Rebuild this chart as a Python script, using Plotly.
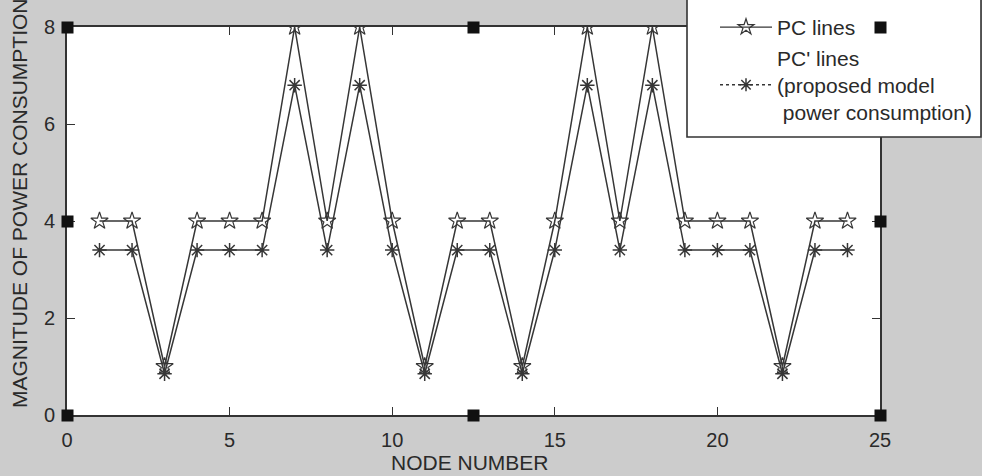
import plotly.graph_objects as go

# ---- data ----
nodes = list(range(1, 25))
pc_lines = [4, 4, 1, 4, 4, 4, 8, 4, 8, 4, 1, 4, 4, 1, 4, 8, 4, 8, 4, 4, 4, 1, 4, 4]
pc_prime = [3.4, 3.4, 0.85, 3.4, 3.4, 3.4, 6.8, 3.4, 6.8, 3.4, 0.85, 3.4, 3.4, 0.85,
            3.4, 6.8, 3.4, 6.8, 3.4, 3.4, 3.4, 0.85, 3.4, 3.4]
x_ticks = [0, 5, 10, 15, 20, 25]
y_ticks = [0, 2, 4, 6, 8]
x_range = [0, 25]
y_range = [0, 8]

# figure geometry (pixels)
W, H = 982, 476
L, R, T, B = 67, 102, 27, 61
PW, PH = W - L - R, H - T - B

def px_x(p):
    return (p - L) / PW

def px_y(p):
    return (H - B - p) / PH

FONT = "Liberation Sans, Arial, sans-serif"
INK = "#2a2a2a"
LINE = "#363636"
BG = "#cccccc"

fig = go.Figure()

fig.add_trace(go.Scatter(
    x=nodes, y=pc_lines, mode="lines+markers", showlegend=False,
    line=dict(color=LINE, width=1.5),
    marker=dict(symbol="star-open", size=13, color=LINE, line=dict(width=1.2, color=LINE)),
))
fig.add_trace(go.Scatter(
    x=nodes, y=pc_prime, mode="lines+markers", showlegend=False,
    line=dict(color=LINE, width=1.5),
    marker=dict(symbol="asterisk-open", size=12, color=LINE, line=dict(width=1.5, color=LINE)),
))

# legend entries
fig.add_trace(go.Scatter(
    x=[None], y=[None], mode="lines+markers", name="PC lines",
    line=dict(color=LINE, width=1.3),
    marker=dict(symbol="star-open", size=12, color=LINE, line=dict(width=1.2, color=LINE)),
))
fig.add_trace(go.Scatter(
    x=[None], y=[None], mode="lines+markers",
    name="PC' lines<br>(proposed model<br> power consumption)",
    line=dict(color=LINE, width=1.3, dash="3px,3px"),
    marker=dict(symbol="asterisk-open", size=11, color=LINE, line=dict(width=1.5, color=LINE)),
))

# selection handles (corners / midpoints of the axes box), drawn above the legend box
xm = (x_range[0] + x_range[1]) / 2
ym = (y_range[0] + y_range[1]) / 2
hx = [x_range[0], x_range[0], x_range[0], xm, xm, x_range[1], x_range[1], x_range[1]]
hy = [y_range[0], ym, y_range[1], y_range[1], y_range[0], y_range[0], ym, y_range[1]]
handle_anns = [
    dict(text=" ", x=a, y=b, xref="x", yref="y", showarrow=False,
         xanchor="center", yanchor="middle", width=11, height=11, borderpad=0,
         bgcolor="#111111", font=dict(size=6))
    for a, b in zip(hx, hy)
]

axis_common = dict(
    showgrid=False, zeroline=False, showline=True, linecolor="#333333", linewidth=1.8,
    mirror="ticks", ticks="inside", ticklen=8, tickwidth=1.3, tickcolor="#333333",
    tickfont=dict(family=FONT, size=20, color=INK),
)

fig.update_layout(
    width=W, height=H,
    margin=dict(l=L, r=R, t=T, b=B, autoexpand=False),
    paper_bgcolor=BG, plot_bgcolor="white",
    xaxis=dict(range=x_range, tickvals=x_ticks, ticklabelstandoff=6, **axis_common),
    yaxis=dict(range=y_range, tickvals=y_ticks, ticklabelstandoff=6, **axis_common),
    legend=dict(
        x=px_x(715), y=px_y(7), xanchor="left", yanchor="top",
        bgcolor="rgba(0,0,0,0)", borderwidth=0,
        font=dict(family=FONT, size=21, color=INK),
        itemwidth=52, valign="middle", tracegroupgap=0,
    ),
    shapes=[
        dict(type="rect", xref="paper", yref="paper",
             x0=px_x(687), x1=px_x(981), y0=px_y(137), y1=px_y(-20),
             fillcolor="white", line=dict(color="#333333", width=1.6), layer="above"),
    ],
    annotations=[
        dict(text="NODE NUMBER", xref="paper", yref="paper",
             x=px_x(470), y=px_y(462), showarrow=False, xanchor="center", yanchor="middle",
             font=dict(family=FONT, size=21, color=INK)),
        dict(text="MAGNITUDE OF POWER CONSUMPTION", xref="paper", yref="paper",
             x=px_x(19), y=px_y(203), showarrow=False, xanchor="center", yanchor="middle",
             textangle=-90, font=dict(family=FONT, size=21, color=INK)),
    ] + handle_anns,
)

fig.write_html("out.html")
